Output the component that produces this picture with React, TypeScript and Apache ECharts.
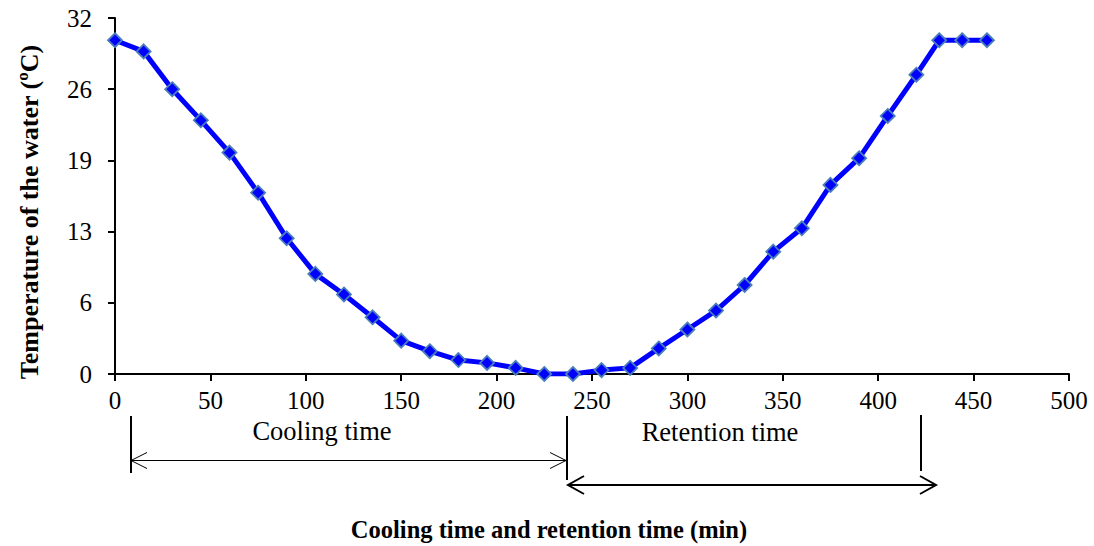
import React, { useEffect, useRef } from "react";
import * as echarts from "echarts";

const timeMin = [0, 15, 30, 45, 60, 75, 90, 105, 120, 135, 150, 165, 180, 195, 210, 225, 240, 255, 270, 285, 300, 315, 330, 345, 360, 375, 390, 405, 420, 432, 444, 457];
const waterTemp = [30, 29, 25.6, 22.8, 19.9, 16.3, 12.2, 9.0, 7.15, 5.1, 3.0, 2.05, 1.25, 1.0, 0.55, 0, 0, 0.35, 0.55, 2.3, 4.0, 5.7, 8.0, 11.0, 13.1, 17.0, 19.4, 23.2, 26.9, 30, 30, 30];

const xTitle = "Cooling time and retention time (min)";
const yTitle = "Temperature of the water (ºC)";
const coolingLabel = "Cooling time";
const retentionLabel = "Retention time";

const FONT = "'Liberation Serif', 'Times New Roman', serif";

export default function App() {
  const ref = useRef<HTMLDivElement>(null);
  useEffect(() => {
    if (!ref.current) return;
    const chart = echarts.init(ref.current, undefined, { renderer: "svg" });
    const black = "#000";
    const thin = { stroke: black, lineWidth: 1, fill: "none" };
    const thick = { stroke: black, lineWidth: 2, fill: "none" };
    chart.setOption({
      animation: false,
      backgroundColor: "#fff",
      grid: { left: 115, right: 25, top: 18, bottom: 172 },
      xAxis: {
        type: "value",
        min: 0,
        max: 500,
        interval: 50,
        axisLine: { lineStyle: { color: black, width: 2 } },
        axisTick: { show: true, length: 7, lineStyle: { color: black, width: 2 } },
        axisLabel: { color: black, fontFamily: FONT, fontSize: 25, margin: 14 },
        splitLine: { show: false },
      },
      yAxis: {
        type: "value",
        min: 0,
        max: 32,
        interval: 6.4,
        axisLine: { show: true, lineStyle: { color: black, width: 2 } },
        axisTick: { show: true, length: 7, lineStyle: { color: black, width: 2 } },
        axisLabel: {
          color: black,
          fontFamily: FONT,
          fontSize: 25,
          margin: 23,
          formatter: (v: number) => String(Math.round(v)),
        },
        splitLine: { show: false },
      },
      series: [
        {
          type: "line",
          data: timeMin.map((t, i) => [t, waterTemp[i]]),
          lineStyle: { color: "#0000FF", width: 5 },
          symbol: "diamond",
          symbolSize: 14,
          itemStyle: { color: "#0000FF", borderColor: "#4A7EBB", borderWidth: 1.8 },
          z: 3,
        },
      ],
      graphic: [
        {
          type: "text",
          x: 29,
          y: 212,
          rotation: Math.PI / 2,
          style: {
            text: yTitle,
            fontFamily: FONT,
            fontSize: 26,
            fontWeight: "bold",
            fill: black,
            align: "center",
            verticalAlign: "middle",
          },
        },
        {
          type: "text",
          x: 549,
          y: 529,
          style: {
            text: xTitle,
            fontFamily: FONT,
            fontSize: 24.5,
            fontWeight: "bold",
            fill: black,
            align: "center",
            verticalAlign: "middle",
          },
        },
        {
          type: "text",
          x: 322,
          y: 431,
          style: { text: coolingLabel, fontFamily: FONT, fontSize: 26.5, fill: black, align: "center", verticalAlign: "middle" },
        },
        {
          type: "text",
          x: 720,
          y: 432,
          style: { text: retentionLabel, fontFamily: FONT, fontSize: 26.5, fill: black, align: "center", verticalAlign: "middle" },
        },
        // vertical markers
        { type: "line", shape: { x1: 131, y1: 416, x2: 131, y2: 473 }, style: thick },
        { type: "line", shape: { x1: 567, y1: 416, x2: 567, y2: 480 }, style: thick },
        { type: "line", shape: { x1: 921, y1: 415, x2: 921, y2: 471 }, style: thick },
        // cooling arrow
        { type: "line", shape: { x1: 131, y1: 460.5, x2: 566, y2: 460.5 }, style: thin },
        { type: "polyline", shape: { points: [[147, 452.5], [131, 460.5], [147, 468.5]] }, style: thin },
        { type: "polyline", shape: { points: [[550, 452.5], [566, 460.5], [550, 468.5]] }, style: thin },
        // retention arrow
        { type: "line", shape: { x1: 568, y1: 485, x2: 936, y2: 485 }, style: thick },
        { type: "polyline", shape: { points: [[584, 476], [568, 485], [584, 494]] }, style: thick },
        { type: "polyline", shape: { points: [[920, 476], [936, 485], [920, 494]] }, style: thick },
      ],
    });
    return () => chart.dispose();
  }, []);
  return (
    <div
      ref={ref}
      style={{ position: "absolute", left: 0, top: 0, width: 1094, height: 546 }}
    />
  );
}
